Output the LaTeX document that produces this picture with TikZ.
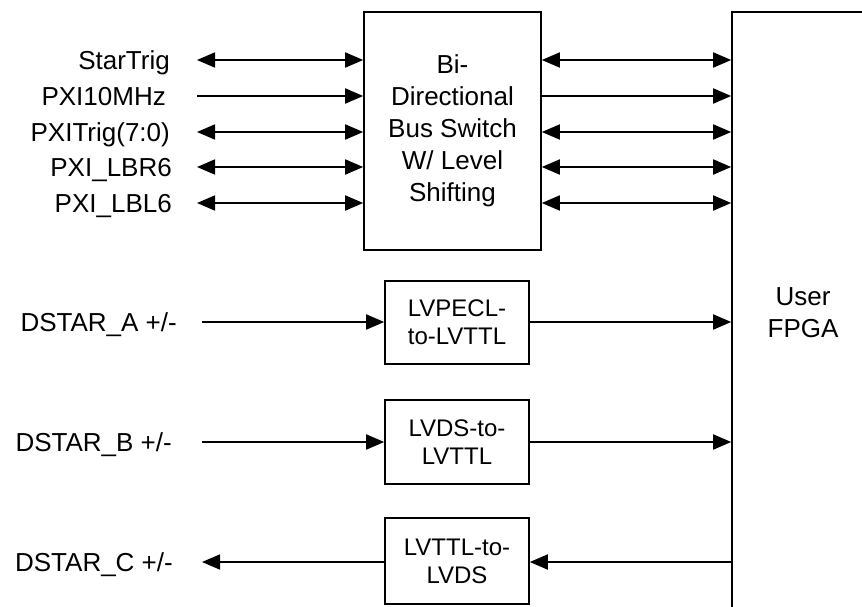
\documentclass[tikz,border=0pt]{standalone}
\usepackage{fontspec}
\setmainfont{Liberation Sans}
\usetikzlibrary{arrows.meta,positioning}

\tikzset{
  blk/.style={draw, line width=1.6pt, align=center, inner sep=2pt},
  big/.style={font=\fontsize{26}{32}\selectfont},
  small/.style={font=\fontsize{24}{28}\selectfont},
  sig/.style={big, inner sep=0pt, text height=18.6pt, text depth=0pt},
  wire/.style={line width=1.8pt, -{Triangle[length=18pt,width=15pt]}},
  biwire/.style={line width=1.8pt, {Triangle[length=18pt,width=15pt]}-{Triangle[length=18pt,width=15pt]}}
}

\begin{document}
\begin{tikzpicture}[x=1pt, y=-1pt]
\clip (0,0) rectangle (862,607);

% Bus switch and FPGA
\node[blk, big, minimum width=177pt, minimum height=238pt] (sw) at (452.5,131) {Bi-\\Directional\\Bus Switch\\W/ Level\\Shifting};
\node[blk, big, minimum width=142pt, minimum height=602pt] (fpga) at (803,313) {User\\FPGA};

% Converters
\node[blk, small, minimum width=144pt, minimum height=83pt] (pecl) at (457,322.5) {LVPECL-\\to-LVTTL};
\node[blk, small, minimum width=144pt, minimum height=84pt] (lvds) at (457,442) {LVDS-to-\\LVTTL};
\node[blk, small, minimum width=144pt, minimum height=86pt] (ttl) at (457,561) {LVTTL-to-\\LVDS};

% PXI signals
\coordinate (st) at (197,60);
\coordinate (clk) at (197,96);
\coordinate (trg) at (197,132);
\coordinate (lbr) at (197,167);
\coordinate (lbl) at (197,203);

\node[sig, left=27pt of st] (stlbl) {StarTrig};
\node[sig, left=31pt of clk] (clklbl) {PXI10MHz};
\node[sig, left=27pt of trg] (trglbl) {PXITrig(7:0)};
\node[sig, left=25pt of lbr] (lbrlbl) {PXI\_LBR6};
\node[sig, left=25pt of lbl] (lbllbl) {PXI\_LBL6};

\draw[biwire] (st) -- (sw.west |- st);
\draw[wire] (clk) -- (sw.west |- clk);
\draw[biwire] (trg) -- (sw.west |- trg);
\draw[biwire] (lbr) -- (sw.west |- lbr);
\draw[biwire] (lbl) -- (sw.west |- lbl);

\draw[biwire] (sw.east |- st) -- (fpga.west |- st);
\draw[wire] (sw.east |- clk) -- (fpga.west |- clk);
\draw[biwire] (sw.east |- trg) -- (fpga.west |- trg);
\draw[biwire] (sw.east |- lbr) -- (fpga.west |- lbr);
\draw[biwire] (sw.east |- lbl) -- (fpga.west |- lbl);

% DSTAR signals
\coordinate (da) at (202,322);
\coordinate (db) at (202,442);
\coordinate (dc) at (202,562);

\node[sig, left=25pt of da] (dalbl) {DSTAR\_A +/-};
\node[sig, left=30pt of db] (dblbl) {DSTAR\_B +/-};
\node[sig, left=29pt of dc] (dclbl) {DSTAR\_C +/-};

\draw[wire] (da) -- (pecl.west |- da);
\draw[wire] (pecl.east |- da) -- (fpga.west |- da);
\draw[wire] (db) -- (lvds.west |- db);
\draw[wire] (lvds.east |- db) -- (fpga.west |- db);
\draw[wire] (fpga.west |- dc) -- (ttl.east |- dc);
\draw[wire] (ttl.west |- dc) -- (dc);
\end{tikzpicture}
\end{document}
